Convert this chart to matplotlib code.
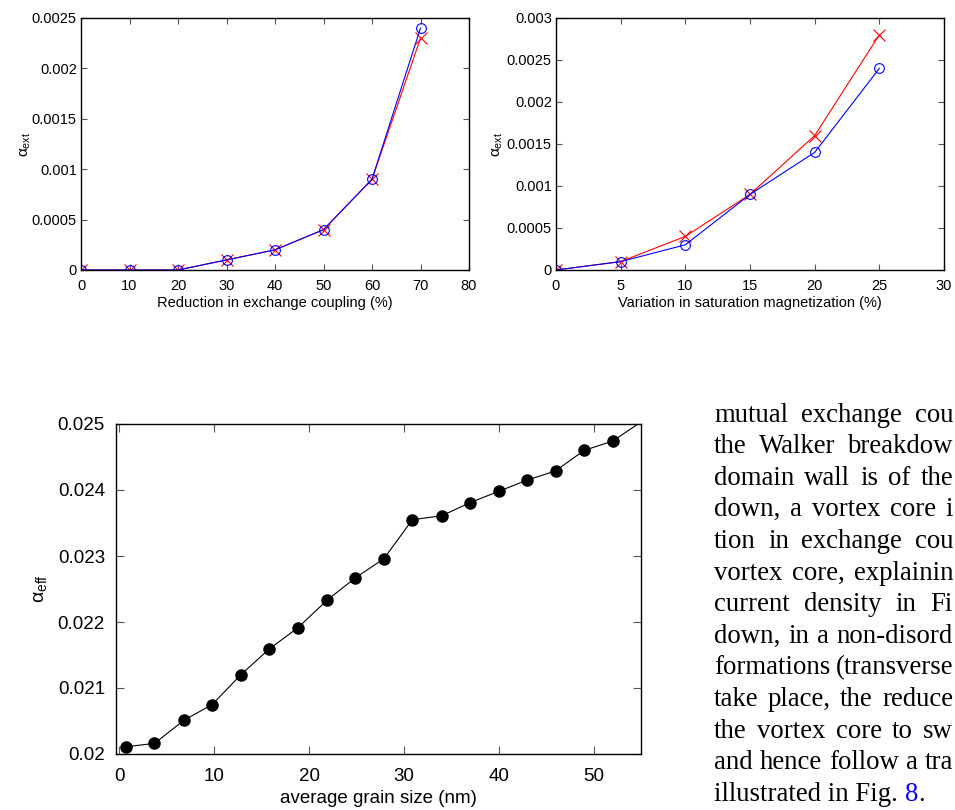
import matplotlib
matplotlib.use("Agg")
import matplotlib.pyplot as plt

plt.rcParams["font.family"] = ["Liberation Sans", "DejaVu Sans"]
plt.rcParams["mathtext.fontset"] = "custom"
plt.rcParams["mathtext.rm"] = "Liberation Sans"
plt.rcParams["mathtext.it"] = "Liberation Sans:italic"

# top left: reduction in exchange coupling
exch_x = [0, 10, 20, 30, 40, 50, 60, 70]
exch_blue = [0, 0, 0, 0.0001, 0.0002, 0.0004, 0.0009, 0.0024]
exch_red = [0, 0, 0, 0.0001, 0.0002, 0.0004, 0.0009, 0.0023]

# top right: variation in saturation magnetization
ms_x = [0, 5, 10, 15, 20, 25]
ms_blue = [0, 0.0001, 0.0003, 0.0009, 0.0014, 0.0024]
ms_red = [0, 0.0001, 0.0004, 0.0009, 0.0016, 0.0028]

# bottom: damping vs grain size (last point lies outside the frame)
grain_x = [0.7, 3.7, 6.8, 9.8, 12.8, 15.8, 18.8, 21.9, 24.9, 27.9, 30.9,
           34, 37, 40, 43, 46, 49, 52, 55]
alpha_eff = [0.02011, 0.02016, 0.02051, 0.02075, 0.02120, 0.02159, 0.02191,
             0.02233, 0.02267, 0.02296, 0.02355, 0.02361, 0.02381, 0.02398,
             0.02415, 0.02429, 0.02460, 0.02474, 0.02503]
n_visible = 18

# body text, as much of each line as shows before the page edge
text_lines = [
    "mutual exchange cou",
    "the Walker breakdow",
    "domain wall is of the",
    "down, a vortex core i",
    "tion in exchange cou",
    "vortex core, explainin",
    "current density in Fi",
    "down, in a non-disord",
    "formations (transverse",
    "take place, the reduce",
    "the vortex core to sw",
    "and hence follow a tra",
]
last_line = "illustrated in Fig. "
fig_ref = "8"

W, H = 955, 810
fig = plt.figure(figsize=(W / 100, H / 100), dpi=100)


def px_axes(l, t, r, b):
    return fig.add_axes([l / W, 1 - b / H, (r - l) / W, (b - t) / H])


def gnuplot_style(ax, fs, pad_y, pad_x, length):
    ax.tick_params(direction="in", top=True, right=True, length=length,
                   width=0.8, labelsize=fs, color="#555555")
    ax.tick_params(axis="y", pad=pad_y)
    ax.tick_params(axis="x", pad=pad_x)
    for s in ax.spines.values():
        s.set_linewidth(1.0)


# ---- top left
ax1 = px_axes(81, 18, 469, 270)
ax1.plot(exch_x, exch_red, color="red", lw=0.8, marker="x", ms=9, mew=0.8)
ax1.plot(exch_x, exch_blue, color="blue", lw=0.8, marker="o", ms=7,
         mfc="none", mew=0.8)
ax1.set_xlim(0, 80)
ax1.set_ylim(0, 0.0025)
ax1.set_xticks(range(0, 81, 10))
ax1.set_yticks([0, 0.0005, 0.001, 0.0015, 0.002, 0.0025])
ax1.set_yticklabels(["0", "0.0005", "0.001", "0.0015", "0.002", "0.0025"])
gnuplot_style(ax1, 10.5, 3, 6.5, 4)
ax1.set_xlabel("Reduction in exchange coupling (%)", fontsize=10.5, labelpad=2.5)
ax1.set_ylabel("α$_{\\rm ext}$", fontsize=11, labelpad=-1)

# ---- top right
ax2 = px_axes(556, 18, 944, 270)
ax2.plot(ms_x, ms_red, color="red", lw=0.8, marker="x", ms=9, mew=0.8)
ax2.plot(ms_x, ms_blue, color="blue", lw=0.8, marker="o", ms=7,
         mfc="none", mew=0.8)
ax2.set_xlim(0, 30)
ax2.set_ylim(0, 0.003)
ax2.set_xticks(range(0, 31, 5))
ax2.set_yticks([0, 0.0005, 0.001, 0.0015, 0.002, 0.0025, 0.003])
ax2.set_yticklabels(["0", "0.0005", "0.001", "0.0015", "0.002", "0.0025", "0.003"])
gnuplot_style(ax2, 10.5, 3, 6.5, 4)
ax2.set_xlabel("Variation in saturation magnetization (%)", fontsize=10.5, labelpad=2.5)
ax2.set_ylabel("α$_{\\rm ext}$", fontsize=11, labelpad=1)

# ---- bottom
ax3 = px_axes(116, 424, 641, 754)
ax3.plot(grain_x, alpha_eff, color="black", lw=0.8)
ax3.plot(grain_x[:n_visible], alpha_eff[:n_visible], ls="none", marker="o",
         ms=8, color="black")
ax3.set_xlim(-0.35, 55)
ax3.set_ylim(0.02, 0.025)
ax3.set_xticks(range(0, 51, 10))
ax3.set_yticks([0.02, 0.021, 0.022, 0.023, 0.024, 0.025])
ax3.set_yticklabels(["0.02", "0.021", "0.022", "0.023", "0.024", "0.025"])
gnuplot_style(ax3, 13.5, 8, 10, 6)
ax3.set_xlabel("average grain size (nm)", fontsize=13.5, labelpad=4)
ax3.set_ylabel("α$_{\\rm eff}$", fontsize=14, labelpad=6)

# ---- body text on the right, justified up to the page edge
serif = ["Liberation Serif", "DejaVu Serif"]
fs_txt = 19.3
x0, right_edge = 714, 953
y0, dy = 415, 31.6
renderer = fig.canvas.get_renderer()
for i, line in enumerate(text_lines):
    y = 1 - (y0 + i * dy) / H
    words = line.split(" ")
    arts = [fig.text(0, y, w, fontsize=fs_txt, family=serif, va="center")
            for w in words]
    widths = [a.get_window_extent(renderer).width for a in arts]
    gap = (right_edge - x0 - sum(widths)) / max(len(words) - 1, 1)
    gap = max(gap, 4.5)
    xx = x0
    for a, w in zip(arts, widths):
        a.set_x(xx / W)
        xx += w + gap

y_last = 1 - (y0 + len(text_lines) * dy) / H
t = fig.text(x0 / W, y_last, last_line, fontsize=fs_txt, family=serif, va="center")
bb = t.get_window_extent(renderer)
t8 = fig.text(bb.x1 / W, y_last, fig_ref, fontsize=fs_txt, family=serif,
              va="center", color="blue")
bb8 = t8.get_window_extent(renderer)
fig.text(bb8.x1 / W, y_last, ".", fontsize=fs_txt, family=serif, va="center")

fig.savefig("out.png", dpi=100)
